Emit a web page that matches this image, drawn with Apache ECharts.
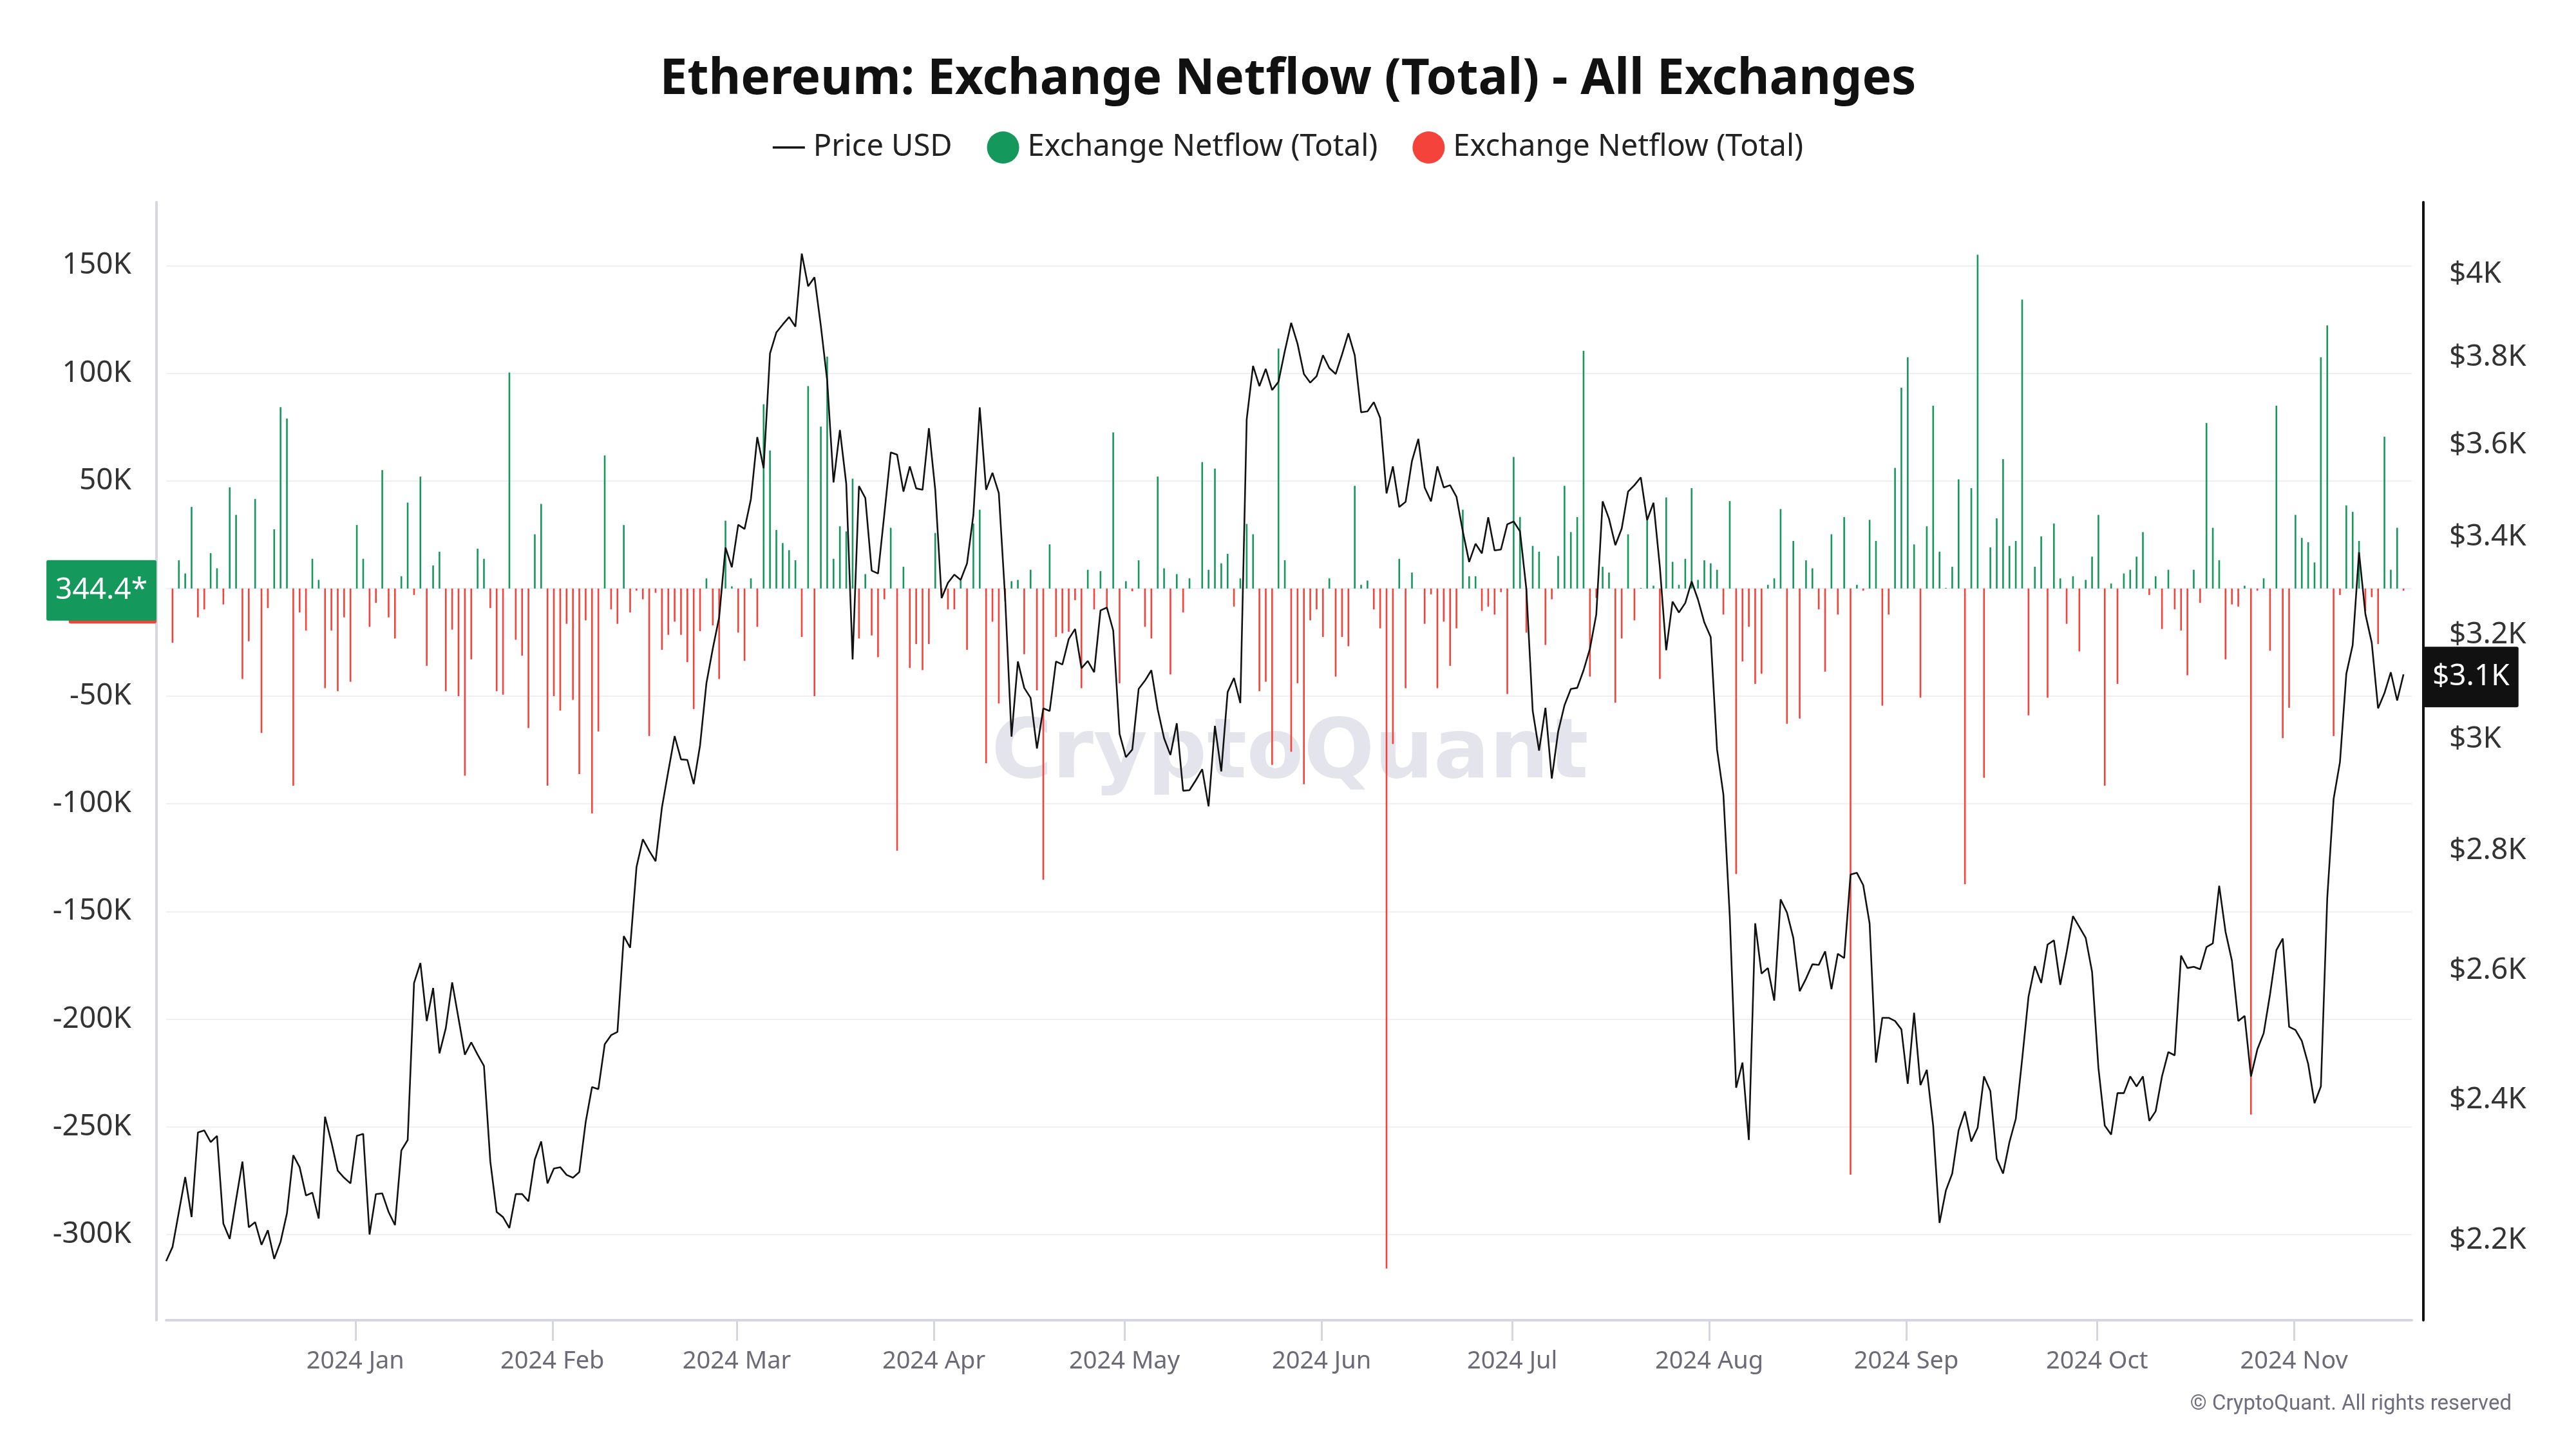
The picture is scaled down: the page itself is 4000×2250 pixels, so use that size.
<!DOCTYPE html>
<html><head><meta charset="utf-8">
<script src="https://cdn.jsdelivr.net/npm/echarts@6/dist/echarts.min.js"></script>
<style>html,body{margin:0;padding:0;background:#fff}#c{width:4000px;height:2250px}</style>
</head><body><div id="c"></div>
<script>
// ---- data (daily, first day 2023-12-02 UTC) ----
const firstDay = [2023, 11, 2];
const priceUSD = [
2172,2191,2239,2288,2232,2352,2355,2338,2347,2223,2202,2256,2310,2218,2225,2194,2214,2175,2198,2237,
2319,2302,2262,2266,2230,2375,2338,2297,2287,2279,2347,2350,2208,2264,2265,2239,2221,2326,2341,2580,
2612,2520,2572,2470,
2509,2581,2524,2468,2487,2468,2451,2310,2239,2232,2217,2264,2264,2254,2313,2339,2279,2300,2302,2291,
2287,2295,2367,2419,2416,2484,2498,2503,2656,2637,2772,2820,2800,2782,2876,2941,3006,2963,2962,2918,
2989,3106,3173,3235,3378,
3337,3426,3417,3481,3617,3548,3809,3859,3878,3896,3873,4052,3971,3993,3875,3746,3517,3633,3514,3152,
3509,3483,3330,3324,3450,3583,3578,3497,3552,3504,3501,3637,3501,3274,3305,3322,3311,3345,3447,3684,
3501,3538,3494,
3274,3005,3148,3097,3078,2983,3058,3053,3148,3142,3192,3212,3135,3149,3127,3249,3255,3209,3010,2967,
2981,3095,3111,3131,3056,3002,2971,3030,2906,2907,2925,2945,2878,3025,2941,3089,3116,3068,3657,3780,
3733,3773,3724,3743,3815,3882,
3832,3761,3741,3756,3805,3775,3761,3807,3857,3805,3673,3675,3696,3660,3493,3552,3464,3475,3564,3613,
3506,3476,3552,3506,3511,3486,3412,3348,3386,3366,3442,3372,3374,3427,3433,3412,3292,3053,2979,3059,
2928,3014,3064,3095,3097,
3131,3173,3241,3476,3439,3383,3418,3497,3511,3528,3436,3473,3338,3170,3267,3245,3264,3308,3271,3225,
3196,2981,2899,2689,2418,2456,2341,2677,2595,2604,2552,2717,2695,2653,2567,2587,2610,2609,2631,2570,
2627,2620,2759,2762,
2741,2677,2456,2525,2525,2520,2507,2424,2533,2422,2445,2362,2224,2269,2293,2355,2383,2339,2359,2435,
2413,2314,2293,2338,2372,2461,2558,2607,2580,2642,2649,2577,2630,2689,2671,2653,2598,2448,2362,2349,
2410,2410,2435,2420,2435,
2369,2383,2435,2472,2467,2624,2604,2606,2602,2638,2644,2740,2663,2616,2520,2528,2435,2476,2501,2562,
2633,2652,2511,2506,2489,2454,2395,2420,2719,2891,2958,3124,3180,3368,3242,3185,3058,3087,3127,3073,
3123
];
// exchange netflow, thousand ETH
const netflowK = [
null,
-25.2,13.1,7.0,37.9,-13.4,-9.7,16.4,9.4,-7.4,47.0,34.2,-42.0,-24.5,41.6,-67.1,-9.1,27.5,84.2,78.9,-91.6,
-11.1,-19.5,13.8,4.0,-46.3,-19.5,-47.7,-13.4,-43.3,29.5,13.8,-17.8,-6.7,55.0,-13.4,-23.2,5.7,39.9,-3.0,52.0,
-35.9,10.7,17.1,
-47.7,-19.1,-50.0,-86.9,-32.9,18.5,13.8,-9.1,-47.7,-49.3,100.3,-23.8,-31.2,-64.8,25.2,39.3,-91.6,-50.0,-56.7,-16.4,
-51.7,-86.2,-14.8,-104.4,-66.4,61.8,-9.7,-16.4,29.5,-11.1,-1.0,-5.0,-68.5,-2.0,-28.5,-21.5,-15.4,-21.5,-34.2,-56.0,
-19.8,4.7,-17.1,-42.0,31.5,
1.0,-20.5,-33.6,4.7,-17.8,85.6,64.1,27.2,21.1,17.8,13.1,-22.5,94.0,-50.0,75.2,107.7,13.8,28.9,26.5,51.0,
-23.2,6.7,-21.8,-31.9,-5.0,28.2,-121.8,10.1,-36.9,-25.8,-37.9,-25.8,25.8,-2.7,-9.7,-9.7,4.0,-28.5,30.2,36.6,
-81.2,-15.4,-53.4,-6.0,
3.4,4.0,-30.5,8.7,-47.3,-135.2,20.5,-22.5,-20.8,-20.1,-5.4,-46.3,8.7,-9.7,8.1,-9.4,72.5,-44.0,3.4,-1.3,
13.1,-17.8,-23.2,52.0,9.4,-39.9,6.7,-11.1,4.7,0,58.7,8.7,55.7,11.7,16.1,-8.4,4.7,30.0,25.2,-47.7,
-43.3,-81.9,111.4,13.1,-75.8,
-44.0,-90.9,-14.8,-9.7,-22.5,4.7,-40.9,-22.5,-26.8,47.7,1.7,3.7,-9.7,-18.5,-315.8,-72.2,13.8,-46.3,7.4,0,
-16.4,-2.7,-46.3,-15.4,-35.9,-18.5,36.6,5.7,5.7,-10.4,-8.4,-12.1,-1.7,-49.0,61.1,33.2,-20.5,19.8,17.1,-26.2,
-5.0,15.1,47.7,26.2,33.2,
110.4,-40.9,-4.4,10.1,7.4,-53.0,-23.2,25.2,-14.8,0.3,31.9,1.3,-42.0,42.3,12.4,1.7,13.8,46.6,4.0,13.1,
11.7,8.7,-12.1,40.6,-132.6,-33.9,-17.8,-44.3,-39.6,1.7,4.7,36.9,-62.8,22.1,-60.4,13.1,9.4,-9.7,-38.6,25.2,
-12.1,33.2,-272.2,1.7,
-1.0,31.9,22.1,-54.4,-12.1,56.0,93.3,107.4,20.5,-50.7,28.9,84.9,17.1,0.3,10.1,50.7,-137.3,46.6,155.0,-87.9,
19.1,32.6,60.1,19.8,22.1,134.2,-58.9,10.1,24.2,-50.7,30.2,4.7,-16.4,5.7,-29.2,4.0,14.8,34.2,-91.6,2.3,
-44.3,7.0,8.7,14.8,26.2,
-3.0,5.7,-18.8,8.7,-9.7,-19.5,-40.3,8.7,-6.7,76.9,28.2,13.1,-32.9,-7.4,-8.4,1.3,-244.3,-1.0,4.7,-28.9,
84.9,-69.5,-55.4,34.2,23.5,21.5,12.1,107.4,122.2,-68.5,-3.0,38.6,35.6,22.1,-10.4,-4.0,-25.8,70.5,8.7,28.2,
-1.0
];
const netflowLastLabel = '344.4*';
const priceLastLabel = '$3.1K';
const monthTicks = [[2024,0],[2024,1],[2024,2],[2024,3],[2024,4],[2024,5],[2024,6],[2024,7],[2024,8],[2024,9],[2024,10]];
const monthLabels = ['2024 Jan','2024 Feb','2024 Mar','2024 Apr','2024 May','2024 Jun','2024 Jul','2024 Aug','2024 Sep','2024 Oct','2024 Nov'];
const leftTicksK = [-300,-250,-200,-150,-100,-50,0,50,100,150];
const rightTicks = [2200,2400,2600,2800,3000,3200,3400,3600,3800,4000];

// ---- build ----
const DAY = 86400000;
const TZ = 5.5 * 3600000; // month boundaries in chart-local time
const t0 = Date.UTC(firstDay[0], firstDay[1], firstDay[2]);
const dates = priceUSD.map((_, i) => t0 + i * DAY);
const inflow = [], outflow = [];
netflowK.forEach((v, i) => {
  if (v == null) return;
  if (v > 0) inflow.push([dates[i], v * 1000]);
  else if (v < 0) outflow.push([dates[i], v * 1000]);
});
const lastNeg = outflow[outflow.length - 1][1];
const tickTimes = monthTicks.map(m => Date.UTC(m[0], m[1], 1) - TZ);
const FONT = 'Noto Sans';
const yMin = -339800, yMax = 179400;
const GREEN = '#14985b', RED = '#f4433a';

const chart = echarts.init(document.getElementById('c'));
chart.setOption({
  animation: false,
  backgroundColor: '#ffffff',
  tooltip: { show: false },
  title: {
    text: 'Ethereum: Exchange Netflow (Total) - All Exchanges',
    left: 'center', top: 73,
    textStyle: { fontSize: 76.5, fontWeight: 'bold', color: '#111', fontFamily: FONT, lineHeight: 92 }
  },
  legend: {
    top: 199, left: 'center',
    itemWidth: 50, itemHeight: 50, itemGap: 54,
    textStyle: { fontSize: 47, color: '#222', fontFamily: FONT, padding: [0, 0, 0, 8] },
    data: [
      { name: 'Price USD', icon: 'path://M0,0h50v3.5h-50z' },
      { name: 'inflow', icon: 'circle' },
      { name: 'outflow', icon: 'circle' }
    ],
    formatter: n => n === 'Price USD' ? 'Price USD' : 'Exchange Netflow (Total)'
  },
  grid: { left: 258, right: 255, top: 314, bottom: 200 },
  xAxis: {
    type: 'value',
    min: t0, max: t0 + 353.3 * DAY,
    axisLine: { show: true, onZero: false, lineStyle: { color: '#d6d6e0', width: 4 } },
    axisTick: { show: true, customValues: tickTimes, length: 32, lineStyle: { color: '#d6d6e0', width: 3 } },
    axisLabel: {
      customValues: tickTimes, margin: 45, fontSize: 38, color: '#6b6b78', fontFamily: FONT,
      formatter: v => { const k = tickTimes.findIndex(t => Math.abs(t - v) < 3600000); return k >= 0 ? monthLabels[k] : ''; }
    },
    splitLine: { show: false }
  },
  yAxis: [
    {
      type: 'value', position: 'left', offset: 15, min: yMin, max: yMax,
      axisLine: { show: true, lineStyle: { color: '#d6d6e0', width: 4 } },
      axisTick: { show: false, customValues: leftTicksK.map(v => v * 1000) },
      axisLabel: {
        customValues: leftTicksK.map(v => v * 1000), margin: 39, fontSize: 46, color: '#333', fontFamily: FONT,
        formatter: v => (v / 1000) + 'K'
      },
      splitLine: { show: true, lineStyle: { color: '#f0f0f4', width: 2 } },
      axisPointer: {
        show: true, status: 'show', value: lastNeg, type: 'none', triggerTooltip: false, z: 50,
        label: { show: true, formatter: (lastNeg / 1000).toFixed(1) + 'K', backgroundColor: RED, color: '#fff',
          fontSize: 46, fontFamily: FONT, lineHeight: 54, padding: [20, 14], margin: 0 }
      }
    },
    {
      type: 'log', logBase: 10, position: 'right', offset: 18, min: 2094, max: 4183,
      axisLine: { show: true, lineStyle: { color: '#111', width: 4 } },
      axisTick: { show: false, customValues: rightTicks },
      axisLabel: {
        customValues: rightTicks, margin: 40, fontSize: 46, color: '#333', fontFamily: FONT,
        formatter: v => '$' + (Math.round(v / 100) / 10) + 'K'
      },
      splitLine: { show: false },
      axisPointer: {
        show: true, status: 'show', value: priceUSD[priceUSD.length - 1], type: 'none', triggerTooltip: false, z: 52,
        label: { show: true, formatter: priceLastLabel, backgroundColor: '#111', color: '#fff',
          fontSize: 46, fontFamily: FONT, lineHeight: 54, padding: [20, 14], margin: 0 }
      }
    },
    {
      type: 'value', position: 'left', offset: 15, min: yMin, max: yMax,
      axisLine: { show: false }, axisTick: { show: false }, axisLabel: { show: false }, splitLine: { show: false },
      axisPointer: {
        show: true, status: 'show', value: 344.4, type: 'none', triggerTooltip: false, z: 51,
        label: { show: true, formatter: netflowLastLabel, backgroundColor: GREEN, color: '#fff',
          fontSize: 46, fontFamily: FONT, lineHeight: 54, padding: [20, 14], margin: 0 }
      }
    }
  ],
  graphic: [
    { type: 'text', x: 2003, y: 1173, z: 0, silent: true,
      style: { text: 'CryptoQuant', font: 'bold 129px "DejaVu Sans"', fill: 'rgba(205,205,220,0.55)', align: 'center', verticalAlign: 'middle' } },
    { type: 'text', x: 3900, y: 2181, silent: true,
      style: { text: '© CryptoQuant. All rights reserved', font: '33px Roboto', fill: '#6e6e7e', align: 'right', verticalAlign: 'middle' } }
  ],
  series: [
    { name: 'Price USD', type: 'line', yAxisIndex: 1, data: dates.map((t, i) => [t, priceUSD[i]]),
      symbol: 'none', lineStyle: { color: '#111', width: 2.6 }, itemStyle: { color: '#111' }, z: 5 },
    { name: 'inflow', type: 'bar', yAxisIndex: 0, data: inflow, barWidth: 2.6, barGap: '-100%',
      itemStyle: { color: GREEN }, z: 3 },
    { name: 'outflow', type: 'bar', yAxisIndex: 0, data: outflow, barWidth: 2.6, barGap: '-100%',
      itemStyle: { color: RED }, z: 3 }
  ]
});
</script></body></html>
